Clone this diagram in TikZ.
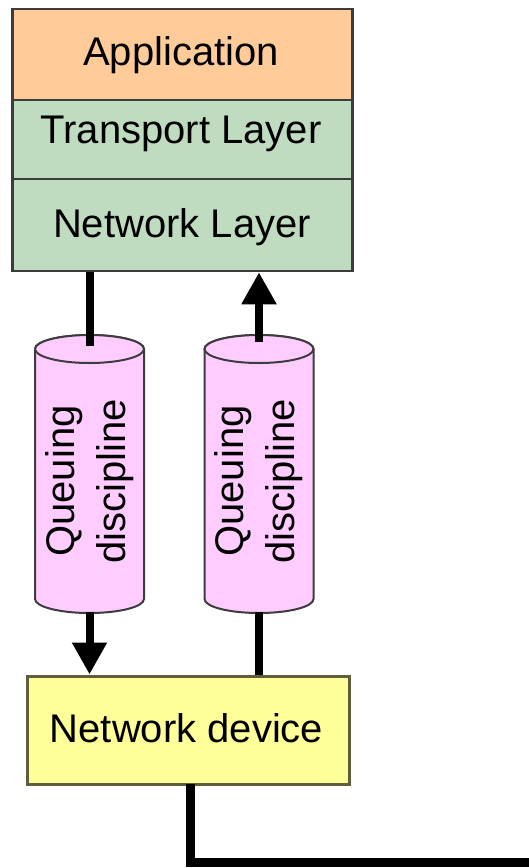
\documentclass[tikz,border=0pt]{standalone}
\usepackage{fontspec}
\setmainfont{Liberation Sans}
\usetikzlibrary{arrows.meta}
\definecolor{appC}{HTML}{FFCC99}
\definecolor{layerC}{HTML}{C0DCC0}
\definecolor{queueC}{HTML}{FFCCFF}
\definecolor{devC}{HTML}{FFFF99}
\definecolor{edgeC}{HTML}{3C3C3C}
\definecolor{devEdge}{HTML}{5E5E3A}
\tikzset{
  layer/.style={draw=edgeC, line width=2.5pt, minimum width=340pt, inner sep=0pt},
  devbox/.style={draw=devEdge, line width=3pt, fill=devC, minimum width=322pt, minimum height=108pt, inner sep=0pt},
  lbl/.style={font=\fontsize{40}{51}\selectfont, inner sep=0pt, anchor=base},
  vlbl/.style={font=\fontsize{40}{51}\selectfont, inner sep=0pt, rotate=90, align=center},
  queue/.style={draw=edgeC, line width=2pt, fill=queueC},
  wire/.style={line width=8pt, black},
  flow/.style={wire, -{Triangle[width=33pt,length=32pt]}}
}
\newcommand{\queuedrum}[3]{%
  % #1 centre x, #2 top y, #3 bottom y
  \filldraw[queue] (#1-54.5,#2) -- (#1-54.5,#3) arc[start angle=180,end angle=360,x radius=54.5,y radius=-14]
     -- (#1+54.5,#2) arc[start angle=0,end angle=180,x radius=54.5,y radius=-14] -- cycle;
  \draw[queue] (#1,#2) ellipse[x radius=54.5,y radius=14];
}
\begin{document}
\begin{tikzpicture}[x=1pt,y=-1pt]
\useasboundingbox (0,0) rectangle (529,868);

% protocol stack
\node[layer, fill=appC, minimum height=91pt] (app) at (182.5,54.5) {};
\node[layer, fill=layerC, minimum height=79pt] (transport) at (182.5,139.5) {};
\node[layer, fill=layerC, minimum height=92pt] (network) at (182.5,225) {};
\node[lbl] (appT) at (181,65) {Application};
\node[lbl] (transT) at (181,143) {Transport Layer};
\node[lbl] (netT) at (182,237) {Network Layer};

% queuing disciplines
\queuedrum{89.5}{349}{599}
\queuedrum{259}{349}{599}
\node[vlbl] (qOut) at (89.5,481) {Queuing\\discipline};
\node[vlbl] (qIn) at (259,481) {Queuing\\discipline};
\coordinate (qOutTop) at (89.5,346);
\coordinate (qOutBot) at (89.5,612);
\coordinate (qInTop) at (259,342);
\coordinate (qInBot) at (259,612);

% device
\node[devbox] (dev) at (188,730) {};
\node[lbl] (devT) at (186.5,742) {Network device};
\coordinate (wireDown) at (190.5,784);
\coordinate (lineEnd) at (540,862);

% connectors
\draw[wire] (network.south -| qOutTop) -- (qOutTop);
\draw[flow] (qOutBot) -- (qOutBot |- dev.north);
\draw[flow] (qInTop) -- (qInTop |- network.south);
\draw[wire] (qInBot) -- (qInBot |- dev.north);
\draw[wire, line width=9pt, line join=miter] (wireDown) |- (lineEnd);
\end{tikzpicture}
\end{document}
